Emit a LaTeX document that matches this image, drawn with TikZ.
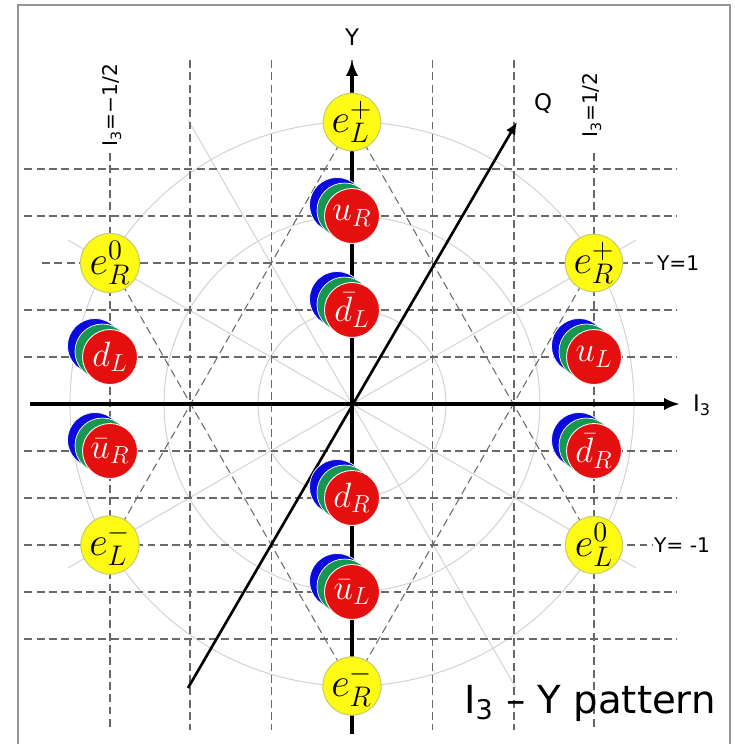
\RequirePackage{fix-cm}
\documentclass[tikz,border=0pt]{standalone}
\usepackage[no-math]{fontspec}
\setmainfont{DejaVu Sans}
\usetikzlibrary{arrows.meta}
\definecolor{ppred}{RGB}{228,16,16}
\definecolor{ppgreen}{RGB}{22,150,80}
\definecolor{ppblue}{RGB}{10,10,220}
\definecolor{ppyellow}{RGB}{255,250,20}
\definecolor{ppyedge}{RGB}{200,205,110}
\definecolor{ppgrid}{RGB}{105,105,105}
\definecolor{pplight}{RGB}{212,212,212}
\definecolor{ppframe}{RGB}{150,150,150}

\begin{document}
\begin{tikzpicture}[>={Latex[length=9pt,width=7pt]},every node/.style={inner sep=1pt},
  grid/.style={ppgrid,line width=0.6pt,dash pattern=on 4.5pt off 2.5pt},
  faint/.style={pplight,line width=0.6pt},
  lepton/.style={circle,fill=ppyellow,draw=ppyedge,line width=0.6pt,minimum size=1.14cm,inner sep=0pt,font=\fontsize{23}{25}\selectfont},
  quark/.style={circle,fill=ppred,draw=white,line width=0.5pt,minimum size=1.1cm,inner sep=0pt,text=white,font=\fontsize{20}{22}\selectfont},
  shadecirc/.style={draw=white,line width=0.4pt},
  small/.style={font=\fontsize{11.5}{13}\selectfont}]
  \useasboundingbox (-7.04,-6.80) rectangle (7.66,8.08);
  \draw[ppframe,line width=1.1pt] (-6.68,-6.8) |- (7.56,7.98) -- (7.56,-6.8);
  % points of the pattern
  \coordinate (O) at (0,0);
  \coordinate (eLp) at (0,5.64);
  \coordinate (uR) at (0,3.76);
  \coordinate (dbL) at (0,1.88);
  \coordinate (dR) at (0,-1.88);
  \coordinate (ubL) at (0,-3.76);
  \coordinate (eRm) at (0,-5.64);
  \coordinate (eR0) at (-4.84,2.82);
  \coordinate (dL) at (-4.84,0.94);
  \coordinate (ubR) at (-4.84,-0.94);
  \coordinate (eLm) at (-4.84,-2.82);
  \coordinate (eRp) at (4.84,2.82);
  \coordinate (uL) at (4.84,0.94);
  \coordinate (dbR) at (4.84,-0.94);
  \coordinate (eL0) at (4.84,-2.82);
  \coordinate (Xl) at (-6.44,0);
  \coordinate (Xr) at (6.56,0);
  \coordinate (Yb) at (0,-6.6);
  \coordinate (Yt) at (0,6.88);
  \coordinate (Qb) at (-3.28,-5.68);
  \coordinate (Qt) at (3.3,5.64);
  % light circles and lines
  \foreach \r in {1.88,3.76,5.64}
    \draw[faint] (O) circle (\r);
  \foreach \a in {30,120,150}
    \draw[faint] (\a:6.55) -- ({\a+180}:6.55);
  % dashed grid
  \foreach \x in {-3.24,-1.61,0,1.61,3.24}
    \draw[grid] (\x,6.88) -- (\x,-6.52);
  \foreach \x in {-4.84,4.84}
    \draw[grid] (\x,5.02) -- (\x,-6.52);
  \foreach \y in {-4.7,-3.76,-1.88,-0.94,0.94,1.88,3.76,4.7}
    \draw[grid] (-6.55,\y) -- (6.5,\y);
  \node[small,anchor=west] (Y1) at (6.06,2.82) {Y=1};
  \node[small,anchor=west] (Ym1) at (6.0,-2.82) {Y= -1};
  \draw[grid] (-6.2,2.82) -- (Y1.west);
  \draw[grid] (-6.55,-2.82) -- (Ym1.west);
  \draw[grid] (eLp) -- (eLm);
  \draw[grid] (eLp) -- (eL0);
  \draw[grid] (eR0) -- (eRm);
  \draw[grid] (eRp) -- (eRm);
  % axes
  \draw[->,line width=1.8pt] (Xl) -- (Xr);
  \draw[->,line width=2.2pt] (Yb) -- (Yt);
  \draw[-{Latex[length=7pt,width=6pt]},line width=1.5pt] (Qb) -- (Qt);
  \node[font=\fontsize{13}{15}\selectfont] (Ylab) at (0,7.34) {Y};
  \node[font=\fontsize{13}{15}\selectfont] (I3lab) at (7.0,-0.03) {I\textsubscript{3}};
  \node[font=\fontsize{13}{15}\selectfont,anchor=west] (Qlab) at (3.6,6.02) {Q};
  \node[small,rotate=90] (I3m) at (-4.8,5.98) {I\textsubscript{3}=−1/2};
  \node[small,rotate=90] (I3p) at (4.8,5.98) {I\textsubscript{3}=1/2};
  % quarks: blue and green behind the red one
  \foreach \q in {uR,dbL,dR,ubL,dL,ubR,uL,dbR} {
    \filldraw[fill=ppblue,shadecirc] ([shift={(-0.3,0.22)}]\q) circle (0.55);
    \filldraw[fill=ppgreen,shadecirc] ([shift={(-0.15,0.11)}]\q) circle (0.55);
  }
  \node[quark] (uRN) at (uR) {$u_R$};
  \node[quark] (dbLN) at (dbL) {$\bar d_L$};
  \node[quark] (dRN) at (dR) {$d_R$};
  \node[quark] (ubLN) at (ubL) {$\bar u_L$};
  \node[quark] (dLN) at (dL) {$d_L$};
  \node[quark] (ubRN) at (ubR) {$\bar u_R$};
  \node[quark] (uLN) at (uL) {$u_L$};
  \node[quark] (dbRN) at (dbR) {$\bar d_R$};
  % leptons
  \node[lepton] (eLpN) at (eLp) {$e_L^+$};
  \node[lepton] (eRmN) at (eRm) {$e_R^-$};
  \node[lepton] (eR0N) at (eR0) {$e_R^0$};
  \node[lepton] (eLmN) at (eLm) {$e_L^-$};
  \node[lepton] (eRpN) at (eRp) {$e_R^+$};
  \node[lepton] (eL0N) at (eL0) {$e_L^0$};
  \node[font=\fontsize{22}{24}\selectfont] (title) at (4.76,-5.98) {I\textsubscript{3} – Y pattern};
\end{tikzpicture}
\end{document}
